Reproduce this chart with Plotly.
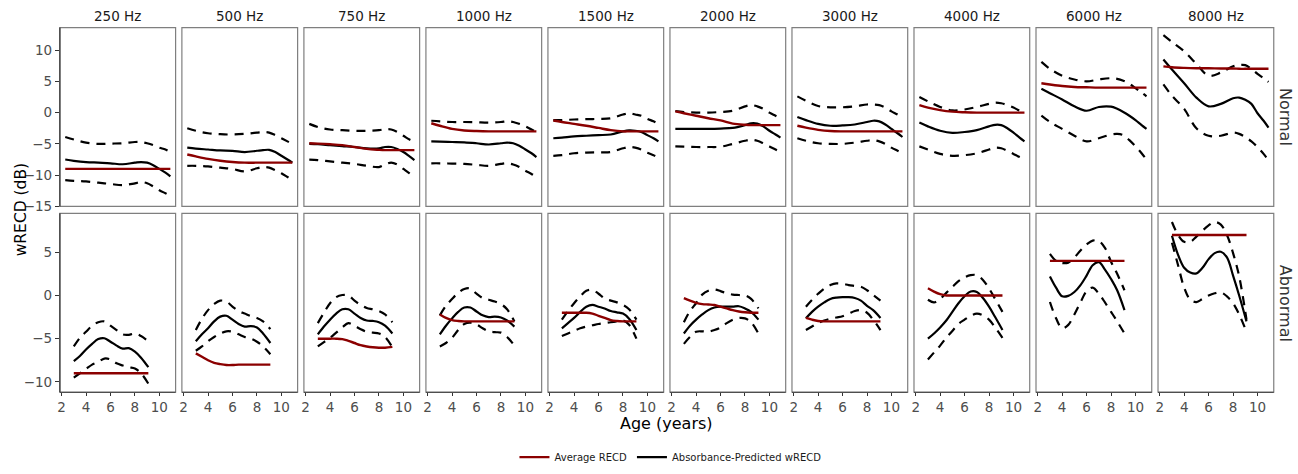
import plotly.graph_objects as go

FREQS = ["250 Hz", "500 Hz", "750 Hz", "1000 Hz", "1500 Hz", "2000 Hz",
         "3000 Hz", "4000 Hz", "6000 Hz", "8000 Hz"]
GROUPS = ["Normal", "Abnormal"]

NORMAL_AGE = [2.3, 3, 4, 5, 6, 7, 8, 8.5, 9, 9.5, 10, 10.5, 10.9]
ABNORMAL_AGE = [3.0, 3.5, 4.0, 4.5, 5.0, 5.5, 6.0, 6.5, 7.0, 7.5, 8.0, 8.5, 9.1]

NORMAL_MEAN = [
    [-7.5, -7.7, -7.9, -8.0, -8.1, -8.25, -8.0, -7.9, -8.0, -8.4, -9.0, -9.6, -10.2],
    [-5.6, -5.75, -5.9, -6.05, -6.1, -6.3, -6.1, -6.0, -5.95, -6.3, -6.9, -7.5, -8.0],
    [-5.0, -5.05, -5.2, -5.35, -5.5, -5.7, -5.7, -5.5, -5.5, -5.8, -6.3, -7.0, -7.6],
    [-4.6, -4.65, -4.7, -4.75, -4.9, -5.1, -4.9, -4.8, -4.9, -5.3, -5.9, -6.5, -7.1],
    [-4.1, -4.0, -3.8, -3.7, -3.6, -3.5, -3.0, -2.85, -2.9, -3.1, -3.6, -4.1, -4.6],
    [-2.6, -2.6, -2.6, -2.6, -2.55, -2.45, -2.0, -1.7, -1.75, -2.2, -2.9, -3.5, -4.0],
    [-0.7, -1.2, -1.8, -2.1, -2.05, -1.9, -1.5, -1.3, -1.4, -1.9, -2.6, -3.3, -3.9],
    [-1.6, -2.2, -2.9, -3.25, -3.1, -2.8, -2.2, -1.95, -2.0, -2.5, -3.2, -4.0, -4.6],
    [3.8, 3.1, 2.1, 1.0, 0.3, 0.9, 0.95, 0.6, 0.1, -0.5, -1.2, -2.0, -2.6],
    [8.5, 6.9, 4.7, 2.4, 1.0, 1.4, 2.3, 2.4, 2.05, 1.4, -0.1, -1.3, -2.4],
]
NORMAL_UPPER = [
    [-3.9, -4.3, -4.8, -5.0, -4.95, -4.9, -4.7, -4.7, -4.9, -5.2, -5.6, -5.9, -6.3],
    [-2.5, -2.9, -3.3, -3.45, -3.5, -3.4, -3.2, -3.1, -3.2, -3.6, -4.1, -4.6, -5.0],
    [-1.8, -2.3, -2.7, -2.8, -2.9, -2.9, -2.8, -2.65, -2.7, -3.1, -3.7, -4.3, -4.6],
    [-1.3, -1.4, -1.5, -1.5, -1.55, -1.6, -1.5, -1.4, -1.5, -1.8, -2.2, -2.7, -3.1],
    [-1.2, -1.2, -1.1, -1.05, -1.0, -0.9, -0.3, -0.1, -0.3, -0.5, -1.0, -1.4, -1.8],
    [0.26, 0.1, 0.0, 0.0, 0.1, 0.3, 1.0, 1.2, 1.0, 0.6, 0.0, -0.5, -0.9],
    [2.6, 1.9, 1.05, 0.85, 0.85, 1.0, 1.3, 1.3, 1.2, 0.8, 0.2, -0.3, -0.8],
    [2.5, 1.8, 0.9, 0.35, 0.5, 0.9, 1.4, 1.6, 1.5, 1.2, 0.8, 0.3, 0.0],
    [8.1, 7.0, 5.9, 5.3, 5.0, 5.3, 5.5, 5.4, 5.1, 4.6, 3.9, 3.2, 2.6],
    [12.4, 11.3, 9.8, 7.8, 5.9, 6.4, 7.4, 7.6, 7.6, 7.0, 6.2, 5.5, 4.9],
]
NORMAL_LOWER = [
    [-10.8, -10.9, -11.0, -11.2, -11.4, -11.6, -11.3, -11.1, -11.3, -11.8, -12.4, -12.9, -13.3],
    [-8.5, -8.5, -8.6, -8.8, -9.0, -9.4, -8.9, -8.7, -8.8, -9.2, -9.7, -10.3, -10.8],
    [-7.5, -7.6, -7.8, -8.0, -8.2, -8.5, -8.7, -8.3, -8.0, -8.3, -9.0, -9.7, -10.3],
    [-8.1, -8.1, -8.15, -8.2, -8.35, -8.5, -8.2, -8.1, -8.3, -8.7, -9.3, -9.8, -10.3],
    [-6.9, -6.8, -6.5, -6.4, -6.35, -6.3, -5.7, -5.5, -5.6, -5.9, -6.4, -6.8, -7.2],
    [-5.4, -5.45, -5.5, -5.5, -5.45, -5.0, -4.5, -4.35, -4.5, -4.9, -5.4, -5.9, -6.3],
    [-4.1, -4.5, -4.9, -5.0, -5.0, -4.8, -4.5, -4.4, -4.6, -5.0, -5.6, -6.1, -6.5],
    [-5.4, -5.9, -6.6, -6.9, -6.8, -6.5, -5.9, -5.6, -5.7, -6.1, -6.6, -7.1, -7.4],
    [-0.5, -1.5, -2.6, -3.7, -4.6, -4.1, -3.5, -3.4, -3.6, -4.4, -5.4, -6.5, -7.5],
    [4.5, 2.7, 0.6, -2.5, -3.7, -3.7, -3.2, -3.4, -3.9, -4.6, -5.5, -6.6, -7.6],
]
NORMAL_AVG = [
    [-9, -9, -9, -9, -9, -9, -9, -9, -9, -9, -9, -9, -9],
    [-6.7, -7.0, -7.4, -7.7, -7.9, -8, -8, -8, -8, -8, -8, -8, -8],
    [-4.9, -4.95, -5.05, -5.2, -5.5, -5.8, -5.95, -6, -6, -6, -6, -6, -6],
    [-1.7, -2.1, -2.6, -2.85, -2.95, -3, -3, -3, -3, -3, -3, -3, -3],
    [-1.26, -1.5, -1.8, -2.1, -2.45, -2.8, -3, -3, -3, -3, -3, -3, -3],
    [0.2, -0.1, -0.5, -0.9, -1.25, -1.75, -1.95, -2, -2, -2, -2, -2, -2],
    [-2.1, -2.4, -2.75, -2.95, -3, -3, -3, -3, -3, -3, -3, -3, -3],
    [1.2, 0.8, 0.4, 0.15, 0.05, 0, 0, 0, 0, 0, 0, 0, 0],
    [4.7, 4.5, 4.25, 4.1, 4.05, 4.0, 4.0, 4.0, 4.0, 4.0, 4.0, 4.0, 4.0],
    [7.4, 7.25, 7.15, 7.1, 7.1, 7.05, 7.05, 7.0, 7.0, 7.0, 7.0, 7.0, 7.0],
]

ABNORMAL_MEAN = [
    [-7.6, -7.0, -6.25, -5.6, -5.05, -4.95, -5.35, -5.8, -6.15, -6.1, -6.5, -7.2, -8.3],
    [-5.3, -4.5, -3.8, -3.0, -2.45, -2.35, -2.8, -3.3, -3.6, -3.55, -3.7, -4.4, -5.5],
    [-4.5, -3.6, -2.8, -2.1, -1.6, -1.6, -2.1, -2.6, -2.9, -2.95, -3.1, -3.5, -4.4],
    [-4.5, -3.5, -2.65, -1.9, -1.4, -1.4, -1.85, -2.3, -2.5, -2.45, -2.55, -2.9, -3.6],
    [-3.8, -3.2, -2.6, -1.9, -1.3, -1.1, -1.3, -1.5, -1.8, -1.95, -2.1, -2.7, -4.0],
    [-4.4, -3.5, -2.8, -2.2, -1.7, -1.4, -1.3, -1.3, -1.3, -1.25, -1.5, -1.9, -2.8],
    [-2.65, -1.9, -1.3, -0.8, -0.4, -0.25, -0.2, -0.2, -0.3, -0.6, -1.2, -1.7, -2.6],
    [-5.0, -4.4, -3.7, -2.9, -1.9, -0.9, -0.1, 0.45, 0.4, -0.3, -1.3, -2.5, -4.0],
    [2.2, 0.9, -0.1, -0.05, 0.4, 1.2, 2.3, 3.5, 3.85, 3.0, 1.9, 0.6, -1.7],
    [6.9, 4.7, 3.2, 2.65, 2.55, 3.2, 4.2, 4.9, 5.05, 4.4, 2.3, 0.0, -3.0],
]
ABNORMAL_UPPER = [
    [-5.9, -4.9, -4.2, -3.5, -3.1, -3.0, -3.5, -4.0, -4.5, -4.55, -4.4, -4.7, -5.3],
    [-4.0, -2.7, -1.7, -1.0, -0.6, -0.7, -1.3, -1.8, -2.1, -2.4, -2.6, -3.0, -3.9],
    [-3.2, -2.0, -0.9, -0.2, 0.05, 0.0, -0.6, -1.1, -1.45, -1.6, -1.8, -2.2, -3.1],
    [-2.3, -1.2, -0.4, 0.3, 0.75, 0.8, 0.2, -0.3, -0.5, -0.7, -1.0, -1.6, -3.0],
    [-2.8, -1.8, -0.9, -0.1, 0.55, 0.65, 0.2, -0.35, -0.6, -0.8, -1.1, -1.6, -2.8],
    [-3.1, -1.8, -0.9, 0.1, 0.55, 0.7, 0.5, 0.25, 0.1, 0.05, 0.0, -0.4, -1.5],
    [-1.3, -0.5, 0.2, 0.8, 1.2, 1.4, 1.35, 1.2, 1.1, 1.0, 0.6, 0.05, -0.6],
    [-0.5, -0.8, -0.4, 0.3, 1.0, 1.65, 2.1, 2.35, 2.35, 1.8, 0.8, -0.4, -1.9],
    [4.8, 4.0, 3.75, 3.8, 4.4, 5.2, 5.9, 6.35, 6.3, 5.5, 3.9, 2.5, 0.6],
    [8.5, 7.0, 6.2, 6.2, 6.8, 7.5, 8.1, 8.5, 8.2, 7.0, 4.9, 2.2, -2.8],
]
ABNORMAL_LOWER = [
    [-9.5, -9.0, -8.5, -8.0, -7.7, -7.3, -7.4, -7.85, -8.1, -8.3, -8.45, -9.0, -10.2],
    [-6.4, -5.9, -5.3, -4.8, -4.4, -4.15, -4.2, -4.5, -4.8, -5.0, -5.35, -5.9, -6.8],
    [-5.9, -5.4, -4.9, -4.3, -3.7, -3.2, -3.5, -3.9, -4.2, -4.3, -4.4, -4.8, -6.0],
    [-5.9, -5.5, -4.9, -4.0, -3.3, -3.15, -3.35, -3.8, -4.15, -4.25, -4.3, -4.8, -5.8],
    [-4.7, -4.4, -4.1, -3.8, -3.6, -3.45, -3.3, -3.2, -3.1, -3.0, -2.9, -3.4, -5.0],
    [-5.6, -4.8, -4.2, -4.15, -4.2, -4.0, -3.7, -3.2, -2.8, -2.6, -2.65, -3.1, -4.4],
    [-4.0, -3.6, -3.2, -2.9, -2.7, -2.55, -2.4, -2.1, -1.8, -1.7, -2.0, -2.8, -4.0],
    [-7.4, -6.6, -5.8, -4.9, -4.1, -3.3, -2.8, -2.35, -2.1, -2.3, -2.8, -3.7, -4.9],
    [-0.76, -2.65, -3.8, -3.4, -2.2, -0.8, 0.5, 0.9, 0.2, -0.8, -1.9, -3.0, -4.4],
    [6.1, 3.5, 0.9, -0.5, -0.76, -0.4, 0.0, 0.25, 0.35, -0.1, -0.9, -2.2, -4.2],
]
ABNORMAL_AVG = [
    [-9, -9, -9, -9, -9, -9, -9, -9, -9, -9, -9, -9, -9],
    [-6.7, -7.1, -7.5, -7.8, -7.95, -8.05, -8.05, -8.0, -8.0, -8.0, -8.0, -8.0, -8.0],
    [-5.0, -5.0, -5.0, -5.0, -5.05, -5.25, -5.5, -5.75, -5.9, -6.0, -6.05, -6.05, -5.95],
    [-2.2, -2.6, -2.85, -2.95, -3.0, -3, -3, -3, -3, -3, -3, -3, -3],
    [-2.0, -2.0, -2.0, -2.0, -2.0, -2.1, -2.35, -2.6, -2.85, -2.95, -3.0, -3.0, -3.0],
    [-0.3, -0.6, -0.85, -1.0, -1.05, -1.1, -1.3, -1.5, -1.7, -1.85, -1.95, -2.0, -2.0],
    [-2.6, -2.8, -2.95, -3.0, -3, -3, -3, -3, -3, -3, -3, -3, -3],
    [0.83, 0.45, 0.15, 0.0, 0, 0, 0, 0, 0, 0, 0, 0, 0],
    [4.0, 4.0, 4.0, 4.0, 4.0, 4.0, 4.0, 4.0, 4.0, 4.0, 4.0, 4.0, 4.0],
    [7.0, 7.0, 7.0, 7.0, 7.0, 7.0, 7.0, 7.0, 7.0, 7.0, 7.0, 7.0, 7.0],
]

X_TICKS = [2, 4, 6, 8, 10]
Y_TICKS = [[10, 5, 0, -5, -10, -15], [5, 0, -5, -10]]
Y_RANGES = [[-15, 13.6], [-11.2, 9.5]]
X_RANGE = [1.86, 11.33]

# ---------------- layout geometry (pixels) ----------------
W, H = 1298, 474
PANEL_L0, PANEL_STEP, PANEL_W = 57.0, 122.3, 116.0
ROW_TOPS = [28.0, 217.0]
ROW_H = 182.0
RED = "#8B0000"
FONT = "DejaVu Sans"


def px(x):
    return x / W


def py(y):
    return 1 - y / H


fig = go.Figure()
layout = dict(
    width=W, height=H, autosize=False,
    margin=dict(l=0, r=0, t=0, b=0),
    paper_bgcolor="white", plot_bgcolor="white",
    font=dict(family=FONT, color="#1a1a1a"),
    showlegend=True,
)
shapes = []
annotations = []

data_rows = [
    (NORMAL_AGE, NORMAL_MEAN, NORMAL_UPPER, NORMAL_LOWER, NORMAL_AVG),
    (ABNORMAL_AGE, ABNORMAL_MEAN, ABNORMAL_UPPER, ABNORMAL_LOWER, ABNORMAL_AVG),
]

for r in range(2):
    ages, means, uppers, lowers, avgs = data_rows[r]
    for i in range(10):
        n = r * 10 + i + 1
        xa = "x" if n == 1 else f"x{n}"
        ya = "y" if n == 1 else f"y{n}"
        left = PANEL_L0 + i * PANEL_STEP
        right = left + PANEL_W
        top = ROW_TOPS[r]
        bot = top + ROW_H
        xkey = "xaxis" if n == 1 else f"xaxis{n}"
        ykey = "yaxis" if n == 1 else f"yaxis{n}"
        layout[xkey] = dict(
            domain=[px(left), px(right)], anchor=ya, range=X_RANGE,
            showgrid=False, zeroline=False, showline=False,
            tickvals=X_TICKS,
            showticklabels=(r == 1),
            ticks="outside" if r == 1 else "",
            ticklen=3, tickwidth=1, tickcolor="#333333",
            tickfont=dict(size=13.5, color="#4d4d4d", family=FONT),
        )
        layout[ykey] = dict(
            domain=[py(bot), py(top)], anchor=xa, range=Y_RANGES[r],
            showgrid=False, zeroline=False, showline=False,
            tickvals=Y_TICKS[r],
            showticklabels=(i == 0),
            ticks="outside" if i == 0 else "",
            ticklen=4, tickwidth=1, tickcolor="#333333",
            tickfont=dict(size=13.5, color="#4d4d4d", family=FONT),
        )
        first = (n == 1)
        for band in (uppers[i], lowers[i]):
            fig.add_trace(go.Scatter(
                x=ages, y=band, xaxis=xa, yaxis=ya, mode="lines",
                line=dict(color="black", width=2.2, dash="9px,7px",
                          shape="spline", smoothing=1.0),
                showlegend=False, hoverinfo="skip"))
        fig.add_trace(go.Scatter(
            x=ages, y=means[i], xaxis=xa, yaxis=ya, mode="lines",
            line=dict(color="black", width=2.2, shape="spline", smoothing=1.0),
            name="Absorbance-Predicted wRECD", legendgroup="pred",
            legendrank=2, showlegend=first))
        fig.add_trace(go.Scatter(
            x=ages, y=avgs[i], xaxis=xa, yaxis=ya, mode="lines",
            line=dict(color=RED, width=2.4, shape="spline", smoothing=1.0),
            name="Average RECD", legendgroup="avg",
            legendrank=1, showlegend=first))
        # panel border
        shapes.append(dict(type="rect", xref="paper", yref="paper",
                           x0=px(left), x1=px(right), y0=py(bot), y1=py(top),
                           line=dict(color="#7f7f7f", width=1.2),
                           fillcolor="rgba(0,0,0,0)", layer="above"))
        if i == 0:
            shapes.append(dict(type="line", xref="paper", yref="paper",
                               x0=px(left), x1=px(left), y0=py(bot), y1=py(top),
                               line=dict(color="#333333", width=1.2), layer="above"))
        if r == 1:
            shapes.append(dict(type="line", xref="paper", yref="paper",
                               x0=px(left), x1=px(right), y0=py(bot), y1=py(bot),
                               line=dict(color="#333333", width=1.2), layer="above"))
        if r == 0:
            annotations.append(dict(text=FREQS[i], xref="paper", yref="paper",
                                    x=px(left + PANEL_W / 2), y=py(16),
                                    xanchor="center", yanchor="middle",
                                    showarrow=False,
                                    font=dict(size=13.5, color="#1a1a1a", family=FONT)))
    annotations.append(dict(text=GROUPS[r], xref="paper", yref="paper",
                            x=px(1285), y=py(ROW_TOPS[r] + ROW_H / 2),
                            xanchor="center", yanchor="middle", textangle=90,
                            showarrow=False,
                            font=dict(size=16, color="#333333", family=FONT)))

annotations.append(dict(text="wRECD (dB)", xref="paper", yref="paper",
                        x=px(18), y=py(213), xanchor="center", yanchor="middle",
                        textangle=-90, showarrow=False,
                        font=dict(size=15.5, color="black", family=FONT)))
annotations.append(dict(text="Age (years)", xref="paper", yref="paper",
                        x=px(665), y=py(431), xanchor="center", yanchor="middle",
                        showarrow=False,
                        font=dict(size=16, color="black", family=FONT)))

layout["shapes"] = shapes
layout["annotations"] = annotations
layout["legend"] = dict(orientation="h", x=px(669), xanchor="center",
                        y=py(465), yanchor="middle",
                        font=dict(size=10, color="#1a1a1a", family=FONT),
                        bgcolor="rgba(0,0,0,0)", itemwidth=30,
                        traceorder="normal")
fig.update_layout(**layout)
fig.write_html("out.html")
